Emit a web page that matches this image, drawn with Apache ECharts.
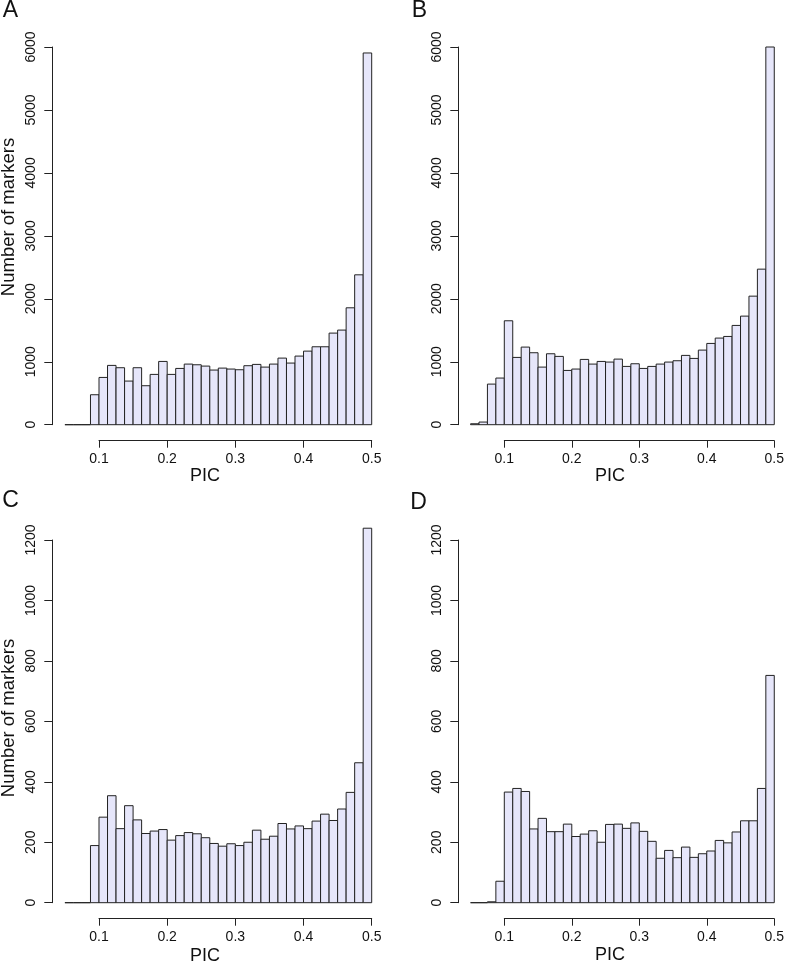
<!DOCTYPE html>
<html>
<head>
<meta charset="utf-8">
<script src="https://cdn.jsdelivr.net/npm/echarts@6/dist/echarts.min.js"></script>
<style>
html,body{margin:0;padding:0;background:#fff;}
#chart{width:787px;height:963px;}
</style>
</head>
<body>
<div id="chart"></div>
<script>
// Histogram bin edges (PIC)
var binEdges = [0.05, 0.0625, 0.075, 0.0875, 0.1, 0.1125, 0.125, 0.1375, 0.15, 0.1625, 0.175, 0.1875,
  0.2, 0.2125, 0.225, 0.2375, 0.25, 0.2625, 0.275, 0.2875, 0.3, 0.3125, 0.325, 0.3375,
  0.35, 0.3625, 0.375, 0.3875, 0.4, 0.4125, 0.425, 0.4375, 0.45, 0.4625, 0.475, 0.4875, 0.5];

// Counts (Number of markers) per bin
var countsA = [0,0,0,476,751,942,905,693,905,619,799,1005,799,894,963,952,931,868,899,884,873,937,958,915,963,1058,979,1090,1169,1238,1238,1455,1503,1857,2381,5905];
var countsB = [15,42,645,741,1651,1069,1233,1143,915,1127,1085,862,884,1037,963,1005,995,1042,926,968,894,926,963,995,1016,1101,1053,1185,1291,1376,1402,1577,1725,2042,2471,6000];
var countsC = [0,0,0,189,283,354,245,321,274,229,237,242,207,222,232,228,215,196,187,195,189,200,240,210,220,262,244,254,245,270,293,272,310,365,463,1239];
var countsD = [0,0,3,71,366,378,368,244,279,235,235,260,219,227,238,200,259,260,246,264,236,203,147,173,149,184,150,162,171,206,198,234,271,271,378,752];

var panelLetters = ['A', 'B', 'C', 'D'];
var xTitle = 'PIC';
var yTitle = 'Number of markers';
var yMaxTop = 6000, yIntTop = 1000;
var yMaxBottom = 1200, yIntBottom = 200;

var chart = echarts.init(document.getElementById('chart'), null, {renderer: 'canvas'});

var FONT = '"Liberation Sans", Arial, Helvetica, sans-serif';
var AXIS_COLOR = '#222';
var panels = [
  {counts: countsA, left: 99, width: 272.7, top: 47, height: 377.7, ymax: yMaxTop, yint: yIntTop, yoff: 46.7},
  {counts: countsB, left: 504.3, width: 272.4, top: 47, height: 377.7, ymax: yMaxTop, yint: yIntTop, yoff: 46},
  {counts: countsC, left: 99, width: 272.7, top: 540, height: 362.7, ymax: yMaxBottom, yint: yIntBottom, yoff: 46.7},
  {counts: countsD, left: 504.3, width: 272.4, top: 540, height: 362.7, ymax: yMaxBottom, yint: yIntBottom, yoff: 46}
];

var grids = [], xAxes = [], yAxes = [], series = [];
panels.forEach(function (p, i) {
  grids.push({left: p.left, top: p.top, width: p.width, height: p.height, containLabel: false});
  xAxes.push({
    type: 'value', gridIndex: i, min: 0.1, max: 0.5, interval: 0.1, offset: 16,
    axisLine: {show: true, onZero: false, lineStyle: {color: AXIS_COLOR, width: 1}},
    axisTick: {show: true, length: 7, lineStyle: {color: AXIS_COLOR, width: 1}},
    axisLabel: {show: true, margin: 11, fontSize: 14, fontFamily: FONT, color: '#111',
      formatter: function (v) { return v.toFixed(1); }},
    splitLine: {show: false}
  });
  yAxes.push({
    type: 'value', gridIndex: i, min: 0, max: p.ymax, interval: p.yint, offset: p.yoff,
    axisLine: {show: true, lineStyle: {color: AXIS_COLOR, width: 1}},
    axisTick: {show: true, length: 8, lineStyle: {color: AXIS_COLOR, width: 1}},
    axisLabel: {show: true, rotate: 90, margin: 14, fontSize: 14, fontFamily: FONT, color: '#111',
      formatter: function (v) { return String(v); }},
    splitLine: {show: false}
  });
  var data = p.counts.map(function (c, k) { return [binEdges[k], binEdges[k + 1], c]; });
  series.push({
    type: 'custom', xAxisIndex: i, yAxisIndex: i, clip: false,
    encode: {x: [0, 1], y: 2},
    data: data,
    renderItem: function (params, api) {
      var p0 = api.coord([api.value(0), api.value(2)]);
      var p1 = api.coord([api.value(1), 0]);
      return {
        type: 'rect',
        shape: {x: p0[0], y: p0[1], width: p1[0] - p0[0], height: p1[1] - p0[1]},
        style: {fill: '#E6E6FA', stroke: '#222', lineWidth: 1}
      };
    },
    silent: true
  });
});

var graphics = [];
var letterPos = [[10.5, 10.5], [419.5, 11], [10.5, 501], [418.5, 503]];
panelLetters.forEach(function (L, i) {
  graphics.push({type: 'text', x: letterPos[i][0], y: letterPos[i][1],
    style: {text: L, font: '23px ' + FONT, fill: '#111', align: 'center', verticalAlign: 'middle'}});
});
var picPos = [[205, 476], [610, 476], [205, 956], [610, 955]];
picPos.forEach(function (pp) {
  graphics.push({type: 'text', x: pp[0], y: pp[1],
    style: {text: xTitle, font: '18px ' + FONT, fill: '#111', align: 'center', verticalAlign: 'middle'}});
});
[[8.5, 217], [8.5, 718]].forEach(function (pp) {
  graphics.push({type: 'text', x: pp[0], y: pp[1], rotation: Math.PI / 2,
    style: {text: yTitle, font: '18.5px ' + FONT, fill: '#111', align: 'center', verticalAlign: 'middle'}});
});

chart.setOption({
  animation: false,
  backgroundColor: '#fff',
  grid: grids,
  xAxis: xAxes,
  yAxis: yAxes,
  series: series,
  graphic: graphics
});
</script>
</body>
</html>
